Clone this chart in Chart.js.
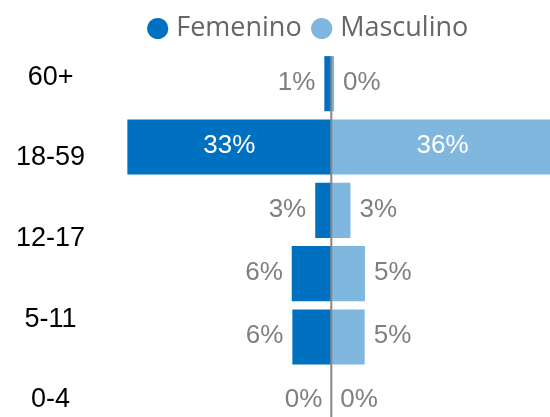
<!DOCTYPE html>
<html>
<head>
<meta charset="utf-8">
<script src="https://cdn.jsdelivr.net/npm/chart.js@4/dist/chart.umd.min.js"></script>
<style>
  html, body { margin: 0; padding: 0; background: #fff; overflow: hidden; }
  #wrap { width: 550px; height: 432px; }
</style>
</head>
<body>
<div id="wrap"><canvas id="myChart"></canvas></div>
<script>
var rows = ["r1", "r2", "r3", "r4", "r5", "r6"],
  femenino = [1.13, 33, 2.6, 6.4, 6.3, 0],
  masculino = [0.45, 36, 3.1, 5.45, 5.4, 0],
  ageLabels = ["60+", "18-59", "12-17", "5-11", "0-4"],
  colors = ["#0070C0", "#80B7DF"];

// percent labels next to / inside the bars
var barLabels = {
  id: "barLabels",
  afterDatasetsDraw: function(chart) {
    var c = chart.ctx;
    c.save();
    c.font = "26px 'Liberation Sans', Arial, sans-serif";
    c.textBaseline = "middle";
    chart.data.datasets.forEach(function(ds, di) {
      chart.getDatasetMeta(di).data.forEach(function(bar, i) {
        var v = ds.data[i],
          txt = Math.round(Math.abs(v)) + "%",
          len = Math.abs(bar.x - bar.base),
          y = bar.y - 1;
        if (len > 80) {
          c.fillStyle = "#fff";
          c.textAlign = "center";
          c.fillText(txt, (bar.x + bar.base) / 2, y);
        } else {
          c.fillStyle = "#7f7f7f";
          if (v < 0 || (v === 0 && di === 0)) {
            c.textAlign = "right";
            c.fillText(txt, Math.min(bar.x, bar.base) - 9, y);
          } else {
            c.textAlign = "left";
            c.fillText(txt, Math.max(bar.x, bar.base) + 9, y);
          }
        }
      });
    });
    // zero line on top of the bars
    var x0 = chart.scales.x.getPixelForValue(0);
    c.strokeStyle = "#878787";
    c.lineWidth = 2;
    c.beginPath();
    c.moveTo(x0, chart.chartArea.top + 4);
    c.lineTo(x0, chart.chartArea.bottom);
    c.stroke();
    c.restore();
  }
};

var ctx = document.getElementById("myChart");
var myChart = new Chart(ctx, {
  type: "bar",
  data: {
    labels: rows,
    datasets: [
      { label: "Femenino", data: femenino.map(function(v) { return -v; }), backgroundColor: colors[0] },
      { label: "Masculino", data: masculino, backgroundColor: colors[1] }
    ]
  },
  options: {
    indexAxis: "y",
    responsive: true,
    maintainAspectRatio: false,
    animation: false,
    layout: { padding: 0 },
    datasets: { bar: { barPercentage: 0.87, categoryPercentage: 1 } },
    scales: {
      x: { stacked: true, display: false, min: -42.12, max: 35.39 },
      y: { stacked: true, display: false },
      yLab: {
        type: "linear",
        position: "left",
        reverse: true,
        offset: false,
        min: -0.316,
        max: 4.4,
        grid: { display: false, drawTicks: false },
        border: { display: false },
        afterBuildTicks: function(axis) {
          axis.ticks = ageLabels.map(function(l, i) { return { value: i }; });
        },
        afterFit: function(axis) { axis.width = 71; },
        ticks: {
          mirror: true,
          crossAlign: "center",
          padding: -55,
          color: "#000",
          font: { family: "'Liberation Sans', Arial, sans-serif", size: 27 },
          callback: function(v) { return ageLabels[v]; }
        }
      }
    },
    plugins: {
      tooltip: { enabled: false },
      legend: {
        fullSize: false,
        labels: {
          usePointStyle: true,
          pointStyle: "circle",
          boxWidth: 10,
          boxHeight: 15,
          padding: 15,
          color: "#666",
          font: { family: "'Open Sans', sans-serif", size: 27 }
        }
      }
    }
  },
  plugins: [barLabels]
});
</script>
</body>
</html>
